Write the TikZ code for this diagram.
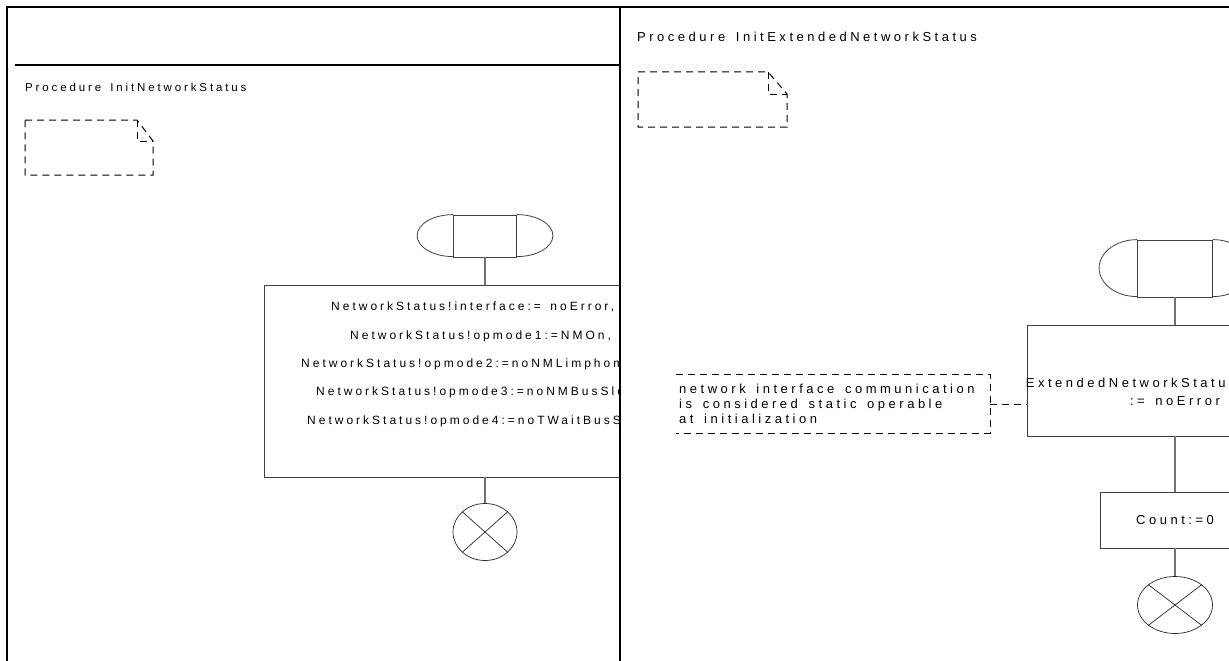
\documentclass[tikz,border=0pt]{standalone}
\usepackage{fontspec}
\newfontfamily\sdlfontL{Liberation Sans}[LetterSpace=25, WordSpace=1.5]
\newfontfamily\sdlfontR{Liberation Sans}[LetterSpace=27, WordSpace=1.5]
\usetikzlibrary{shapes.geometric}

\begin{document}
\begin{tikzpicture}[x=1pt, y=-1pt,
    flow/.style={draw=black!75, line width=0.8pt},
    taskbox/.style={flow, rectangle, inner sep=0pt},
    startsym/.style={flow, rectangle, inner sep=0pt},
    endsym/.style={draw=black!85, line width=0.7pt},
    conn/.style={draw=black!55, line width=1.2pt},
    dashline/.style={draw=black, line width=1pt, dash pattern=on 7pt off 5pt},
    frame/.style={line width=2.2pt},
    txtL/.style={font=\sdlfontL\fontsize{11.5}{13}\selectfont, inner sep=0pt, anchor=west},
    txtR/.style={font=\sdlfontR\fontsize{13}{18}\selectfont, inner sep=0pt}]
  \useasboundingbox (0,0) rectangle (1229,661);
  \clip (0,0) rectangle (1229,661);

  % left procedure
  \node[txtL] (titleL) at (25,87) {Procedure InitNetworkStatus};
  \draw[dashline] (25,120) -- (137,120) -- (153,141) -- (153,175) -- (25,175) -- cycle;
  \draw[dashline] (137,120) -- (137,141) -- (153,141);

  \node[startsym, minimum width=63pt, minimum height=42pt] (startL) at (485,236) {};
  \draw[flow] (startL.north west) arc[start angle=90, end angle=270, x radius=36pt, y radius=21pt];
  \draw[flow] (startL.north east) arc[start angle=90, end angle=-90, x radius=36pt, y radius=21pt];

  \begin{scope}
    \clip (8,270) rectangle (620,490);
    \node[taskbox, minimum width=442pt, minimum height=192pt] (taskL) at (485,381) {};
    \foreach \x/\y/\t [count=\i] in {331/307/{NetworkStatus!interface:= noError,},
        350/336/{NetworkStatus!opmode1:=NMOn,},
        301/364/{NetworkStatus!opmode2:=noNMLimphome,},
        316/392/{NetworkStatus!opmode3:=noNMBusSleep,},
        307/421/{NetworkStatus!opmode4:=noTWaitBusSleep}}
      \node[txtL, font=\sdlfontL\fontsize{12}{13}\selectfont] (assignL\i) at (\x,\y) {\t};
  \end{scope}

  \node[endsym, ellipse, inner sep=0pt, minimum width=64pt, minimum height=57pt] (stopL) at (485,532) {};
  \draw[endsym] (stopL.north west) -- (stopL.south east) (stopL.north east) -- (stopL.south west);

  \draw[conn] (startL.south) -- (taskL.north);
  \draw[conn] (taskL.south) -- (stopL.north);

  % right procedure
  \node[txtR, anchor=west] (titleR) at (637,37) {Procedure InitExtendedNetworkStatus};
  \draw[dashline] (638,72) -- (768,72) -- (787,94) -- (787,127) -- (638,127) -- cycle;
  \draw[dashline] (768,72) -- (768,94) -- (787,94);

  \node[startsym, minimum width=75pt, minimum height=57pt] (startR) at (1175,268.5) {};
  \draw[flow] (startR.north west) arc[start angle=90, end angle=270, x radius=38pt, y radius=28.5pt];
  \draw[flow] (startR.north east) arc[start angle=90, end angle=-90, x radius=38pt, y radius=28.5pt];

  \node[taskbox, minimum width=296pt, minimum height=111pt] (taskR) at (1175,380.5) {};
  \node[txtR, align=center] (assignR) at (1175,392) {ExtendedNetworkStatus!interface\\:= noError};
  \node[taskbox, txtR, minimum width=150pt, minimum height=56pt] (countR) at (1175,520) {Count:=0};

  \node[endsym, ellipse, inner sep=0pt, minimum width=75pt, minimum height=57pt] (stopR) at (1175,605) {};
  \draw[endsym] (stopR.north west) -- (stopR.south east) (stopR.north east) -- (stopR.south west);

  \node[txtR, font=\sdlfontR\fontsize{13}{15}\selectfont, align=left, anchor=west] (noteTxt) at (679,404)
    {network interface communication\\is considered static operable\\at initialization};
  \node[inner sep=0pt, minimum width=314pt, minimum height=58pt] (note) at (833,404) {};
  \draw[dashline] (note.north west) -- (note.north east) -- (note.south east) -- (note.south west);
  \draw[dashline] (note.east) -- (note.east -| taskR.west);

  \draw[conn] (startR.south) -- (taskR.north);
  \draw[conn] (taskR.south) -- (countR.north);
  \draw[conn] (countR.south) -- (stopR.north);

  % frame
  \draw[line width=1.5pt] (15,65) -- (620,65);
  \draw[frame] (6,7) -- (1229,7);
  \draw[frame] (7,6) -- (7,661);
  \draw[frame] (620,7) -- (620,661);
\end{tikzpicture}
\end{document}
